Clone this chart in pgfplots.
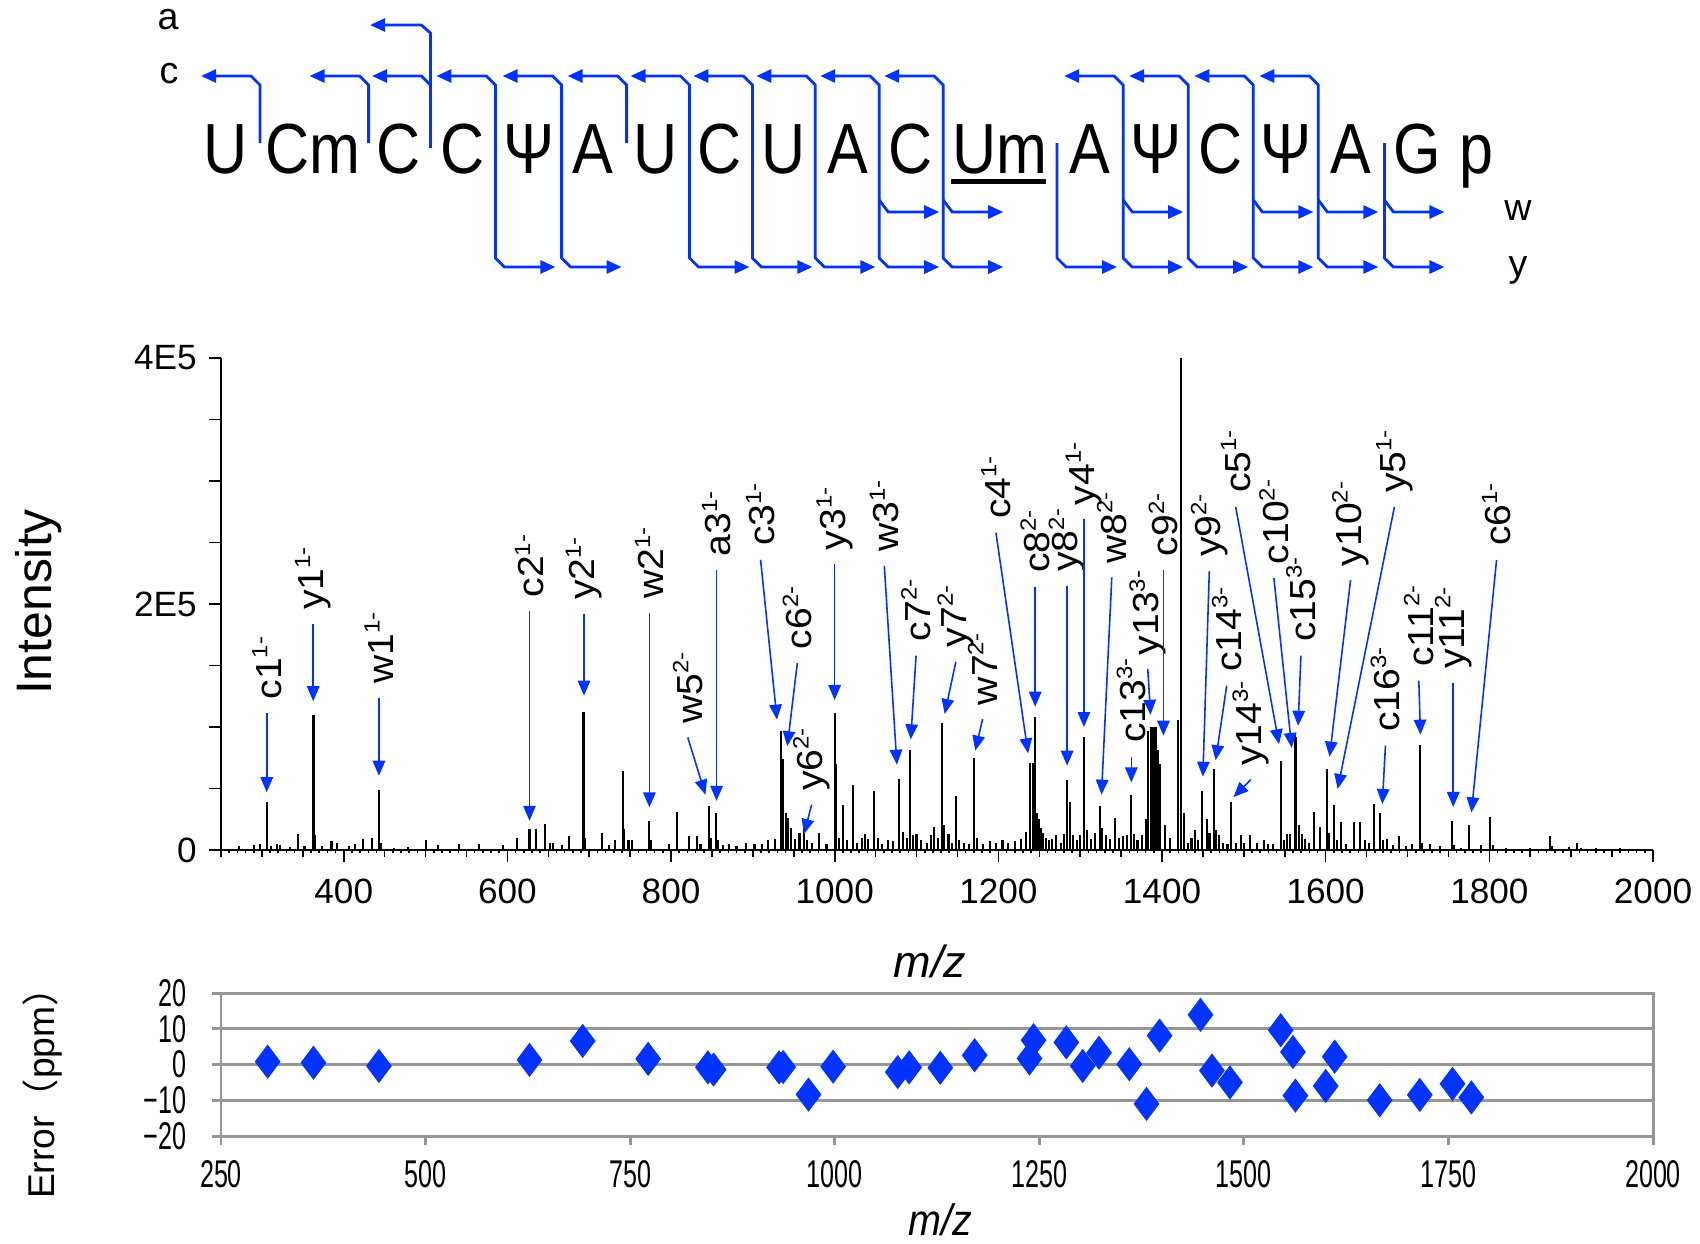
\documentclass[border=0pt]{standalone}
\usepackage{fontspec}
\setmainfont{Liberation Sans}
\newfontfamily\narrowfont[FakeStretch=0.65]{Liberation Sans}
\newfontfamily\narrowB[FakeStretch=0.9]{Liberation Sans}
\newfontfamily\lblfont[FakeStretch=1.08]{Liberation Sans}
\newfontfamily\seqfont[FakeStretch=0.86]{Liberation Sans}
\newfontfamily\jpfont{Noto Sans CJK JP}
\usepackage{pgfplots}
\pgfplotsset{compat=1.18}
\usetikzlibrary{arrows.meta}
\definecolor{fragblue}{RGB}{0,51,255}
\definecolor{gridgray}{RGB}{150,150,150}
\tikzset{frag/.style={draw=fragblue, line width=0.8pt, line join=miter}}
\newcommand{\tipA}{Triangle[length=1.5mm,width=1.3mm]}
% c fragment only
\newcommand{\conly}[1]{\draw[frag,-{\tipA}] (#1,143) -- (#1,85) -- ({#1-9},76) -- ({#1-59},76);}
% c and y fragment on one separator
\newcommand{\cy}[1]{\draw[frag,{\tipA}-{\tipA}] ({#1-59},76) -- ({#1-9},76) -- (#1,85) -- (#1,258) -- ({#1+9},267) -- ({#1+60},267);}
% y only
\newcommand{\yonly}[1]{\draw[frag,-{\tipA}] (#1,143) -- (#1,258) -- ({#1+9},267) -- ({#1+60},267);}
% w branch
\newcommand{\wbr}[1]{\draw[frag,-{\tipA}] (#1,200) -- ({#1+9},212) -- ({#1+60},212);}
\newcommand{\chg}[1]{\raisebox{0.38em}{\fontsize{6.3}{7}\selectfont #1}}
\newcommand{\ann}[5]{%
  \draw[fragblue, line width=0.45pt, -{Triangle[length=1.5mm,width=1.25mm]}] (axis cs:#1,#2) -- (axis cs:#3,#4);
  \node[rotate=90, anchor=west, inner sep=0pt, outer sep=1.4mm, font=\fontsize{10.3}{11}\lblfont] at (axis cs:#1,#2) {#5};}
\begin{document}
\begin{tikzpicture}
\useasboundingbox (0,0) rectangle (170mm,-124.3mm);
\begin{scope}[x=0.1mm,y=-0.1mm]
  % sequence letters
  \begin{scope}[every node/.style={anchor=base, inner sep=0pt, font=\fontsize{20.2}{24}\seqfont}]
    \node at (225.5,173.5) {U};
    \node at (312.8,173.5) {Cm};
    \node at (399,173.5) {C};
    \node at (463,173.5) {C};
    \node at (529,173.5) {Ψ};
    \node at (593,173.5) {A};
    \node at (656,173.5) {U};
    \node at (720,173.5) {C};
    \node at (784,173.5) {U};
    \node at (848,173.5) {A};
    \node at (911,173.5) {C};
    \node at (999.6,173.5) {Um};
    \node at (1089.5,173.5) {A};
    \node at (1155.7,173.5) {Ψ};
    \node at (1220.7,173.5) {C};
    \node at (1285.8,173.5) {Ψ};
    \node at (1350.8,173.5) {A};
    \node at (1417,173.5) {G};
    \node at (1476.6,173.5) {p};
  \end{scope}
  \fill (951,179) rectangle (1046,184);
  % series labels
  \begin{scope}[every node/.style={inner sep=0pt, font=\fontsize{10.7}{12}\selectfont}]
    \node at (168,20) {a};
    \node at (169,74) {c};
    \node at (1518,211) {w};
    \node at (1518,270) {y};
  \end{scope}
  % fragment arrows
  \conly{260}
  \conly{368.6}
  \draw[frag,-{\tipA}] (430.4,148) -- (430.4,33) -- (421.4,25) -- (370,25);
  \draw[frag,-{\tipA}] (430.4,85) -- (421.4,76) -- (372,76);
  \cy{495.4}
  \cy{561.6}
  \conly{626.6}
  \cy{689.5}
  \cy{752.4}
  \cy{815.3}
  \cy{879.2}
  \cy{943.2}
  \yonly{1057}
  \cy{1123.2}
  \cy{1188.2}
  \cy{1253.3}
  \cy{1318.3}
  \yonly{1384.4}
  \wbr{879.2}
  \wbr{943.2}
  \wbr{1123.2}
  \wbr{1253.3}
  \wbr{1318.3}
  \wbr{1384.4}
  % axis labels
  \node[rotate=90, inner sep=0pt, font=\fontsize{14.2}{16}\selectfont] at (39,602) {Intensity};
  \node[inner sep=0pt, font=\fontsize{12.8}{15}\selectfont\itshape] at (930,961) {m/z};
  \node[rotate=90, inner sep=0pt, font=\fontsize{10.6}{12}\selectfont] at (42,1084) {Error{\jpfont （}ppm{\jpfont ）}};
  \node[inner sep=0pt, font=\fontsize{12.5}{15}\narrowB\itshape] at (940,1220) {m/z};
\end{scope}

\begin{axis}[
  at={(22.1mm,-85.0mm)}, anchor=south west,
  scale only axis, width=143.2mm, height=49.2mm,
  xmin=250, xmax=2000, ymin=0, ymax=400000,
  axis x line=bottom, axis y line=left,
  axis line style={-, line width=0.45pt, black},
  xtick={400,600,...,2000},
  xticklabels={400,600,800,1000,1200,1400,1600,1800,2000},
  minor xtick={250,260,...,2000},
  extra x ticks={250,300,...,2000}, extra x tick labels={},
  extra x tick style={major tick length=0.7mm},
  ytick={0,50000,...,400000}, yticklabels={0,,,,2E5,,,,4E5},
  scaled y ticks=false,
  tick align=outside, major tick length=1.2mm, minor tick length=0.3mm,
  tick style={black, line width=0.45pt},
  xticklabel style={font=\fontsize{10}{12}\selectfont, anchor=center, yshift=-2.9mm},
  yticklabel style={font=\fontsize{10}{12}\selectfont, anchor=east},
  clip=false,
]
\addplot[ycomb, black, line width=0.6pt, mark=none] table[x=mz, y=int] {
mz int
272 3000
290 4000
298 5000
306 39000
311 3000
318 5000
322 4000
334 2500
344 13000
352 3000
363 110000
365 12000
373 3000
385 7500
392 6000
406 3000
414 5000
424 9000
435 10000
443 49000
446 6000
461 2000
478 2500
500 8000
515 4000
541 4500
565 4500
595 4000
612 10000
627 17000
635 17000
646 21000
652 6000
656 6000
667 4000
675 11000
693 112000
695 10000
716 14000
724 4000
731 8000
741 64000
743 17000
748 8000
752 8000
773 24000
776 8000
797 5000
807 31000
822 11000
832 11000
836 5000
846 36000
849 10000
855 30000
857 8000
864 4000
871 4500
880 3000
892 6000
902 5000
911 4500
919 8000
927 9000
934 97000
937 74000
940 30000
943 26000
947 18000
952 9000
957 14000
962 18000
966 8000
972 6000
981 14000
990 5000
1000 111000
1002 70000
1005 10000
1010 37000
1015 8000
1022 53000
1027 6000
1033 10000
1037 13000
1041 9000
1048 48000
1053 10000
1058 5000
1065 8000
1071 7000
1079 58000
1083 15000
1088 10000
1092 81000
1096 12000
1100 13000
1105 8000
1113 6000
1118 12000
1121 19000
1126 10000
1131 103000
1134 20000
1139 13000
1143 6000
1148 44000
1152 8000
1158 6000
1164 5000
1170 75000
1174 10000
1181 5000
1190 7000
1197 6000
1205 8000
1212 6000
1220 7000
1228 9000
1234 15000
1239 71000
1242 71000
1245 108000
1247 30000
1249 25000
1252 18000
1255 14000
1258 10000
1262 8000
1266 9000
1270 12000
1276 6000
1280 13000
1284 57000
1287 39000
1291 12000
1296 8000
1300 12000
1304.5 92000
1308 16000
1313 9000
1318 14000
1324 36000
1327 18000
1331 12000
1336 9000
1342 26000
1347 10000
1352 11000
1357 12000
1362 45000
1366 13000
1370 8000
1375 12000
1380 25000
1383 97000
1386 100000
1389 100000
1392 100000
1395 81000
1398 70000
1404 20000
1410 10000
1419 106000
1423.7 400000
1427 30000
1432 6000
1436 10000
1440 16000
1444 8000
1449.3 48000
1455 25000
1458 14000
1463 66000
1466 16000
1470 12000
1475 6000
1480 5000
1484.3 39000
1490 6000
1496 12000
1500 6000
1508 12000
1516 6000
1525 8000
1530 5000
1536 5000
1545.4 72000
1549 8000
1553 13000
1556 13000
1562 94000
1564 92000
1567 20000
1571 13000
1575 9000
1580 6000
1586 30600
1593 19000
1601.8 66000
1604 14000
1610 37000
1614 8000
1619 23000
1625 5000
1635 23000
1641.5 22500
1648 8000
1653 6000
1659.4 37400
1666 30000
1670 8000
1675 9000
1682 4000
1690 11000
1698 3000
1705 5000
1715 85600
1718 6000
1727 5000
1740 3000
1754 24000
1757 4000
1765 2000
1775.5 20000
1790 4000
1801 27000
1804 4000
1820 2000
1850 2000
1873.8 11700
1876 3000
1897 2500
1907 6000
1912 2000
1930 2000
1960 1500
};
\ann{305.9}{111000}{305.9}{47000}{c1\chg{1-}}
\ann{362.7}{184000}{362.7}{121000}{y1\chg{1-}}
\ann{443}{124000}{443}{60400}{w1\chg{1-}}
\ann{627}{194000}{627}{23800}{c2\chg{1-}}
\ann{693.6}{192000}{693.6}{125500}{y2\chg{1-}}
\ann{773.5}{193000}{773.5}{34700}{w2\chg{1-}}
\ann{820.4}{91600}{842}{45000}{w5\chg{2-}}
\ann{855.6}{227600}{855.6}{40000}{a3\chg{1-}}
\ann{909.4}{236000}{929.5}{106000}{c3\chg{1-}}
\ann{954.3}{152000}{942}{84400}{c6\chg{2-}}
\ann{971.8}{36900}{962.5}{13000}{y6\chg{2-}}
\ann{999.9}{232500}{999.9}{122000}{y3\chg{1-}}
\ann{1060.6}{231000}{1076}{69400}{w3\chg{1-}}
\ann{1099.4}{158000}{1092.9}{90000}{c7\chg{2-}}
\ann{1148}{153000}{1134.4}{110600}{y7\chg{2-}}
\ann{1180.7}{106500}{1171.8}{80800}{w7\chg{2-}}
\ann{1197}{258000}{1236.3}{78600}{c4\chg{1-}}
\ann{1245}{214000}{1245}{116500}{c8\chg{2-}}
\ann{1284}{215000}{1284}{68600}{y8\chg{2-}}
\ann{1304.5}{269000}{1304.5}{100000}{y4\chg{1-}}
\ann{1338.6}{221700}{1326}{45000}{w8\chg{2-}}
\ann{1362.5}{75900}{1362.5}{55000}{c13\chg{3-}}
\ann{1382.6}{147000}{1386}{110000}{y13\chg{3-}}
\ann{1401.7}{227600}{1401.7}{93000}{c9\chg{2-}}
\ann{1457.8}{227000}{1449.9}{59600}{y9\chg{2-}}
\ann{1479}{133600}{1465.5}{73000}{c14\chg{3-}}
\ann{1508.5}{57300}{1487.3}{43000}{y14\chg{3-}}
\ann{1490}{279000}{1543}{86000}{c5\chg{1-}}
\ann{1536.7}{221000}{1558.5}{83000}{c10\chg{2-}}
\ann{1569.7}{158000}{1566.3}{101000}{c15\chg{3-}}
\ann{1630.4}{219500}{1604.7}{75900}{y10\chg{2-}}
\ann{1684}{279000}{1614.6}{49600}{y5\chg{1-}}
\ann{1673}{84800}{1669.2}{37400}{c16\chg{3-}}
\ann{1713.8}{137700}{1715.8}{93800}{c11\chg{2-}}
\ann{1755.9}{136000}{1755.9}{35000}{y11\chg{2-}}
\ann{1808.8}{235800}{1778.1}{30600}{c6\chg{1-}}
\end{axis}

\begin{axis}[
  at={(22.1mm,-113.6mm)}, anchor=south west,
  scale only axis, width=143.2mm, height=14.3mm,
  xmin=250, xmax=2000, ymin=-20, ymax=20,
  xtick={250,500,...,2000},
  xticklabels={250,500,750,1000,1250,1500,1750,2000},
  ytick={-20,-10,0,10,20},
  yticklabels={−20,−10,0,10,20},
  xtick pos=bottom, ytick pos=left,
  tick align=outside, major tick length=0.9mm,
  axis line style={gridgray, line width=0.85pt},
  tick style={gridgray, line width=0.85pt},
  ymajorgrids, major grid style={gridgray, line width=0.85pt},
  xticklabel style={font=\fontsize{11}{12}\narrowfont, anchor=center, yshift=-2.9mm},
  yticklabel style={font=\fontsize{11}{12}\narrowfont, anchor=east, xshift=-1.3mm},
  clip=false,
]
\addplot[only marks, mark=diamond*, mark size=1.6mm, color=fragblue, mark options={fill=fragblue, draw=fragblue}] table[x=mz, y=ppm] {
mz ppm
307 0.8
363 0.5
443 -0.4
627 1.3
692 6.6
772 1.6
845 -0.8
852 -1.4
932 -0.8
937 -0.7
968 -8.4
998 -0.6
1077 -2.1
1091 -0.8
1129 -0.9
1171 2.6
1238 1.7
1243 6.8
1283 6.2
1303 -0.4
1323 3.3
1360 0.1
1381 -11
1397 8.1
1447 13.9
1461 -1.7
1483 -5.0
1545 9.6
1560 3.5
1563 -8.7
1600 -6.0
1611 2.2
1666 -10
1715 -8.5
1755 -5.4
1778 -9.2
};
\end{axis}
\end{tikzpicture}
\end{document}
